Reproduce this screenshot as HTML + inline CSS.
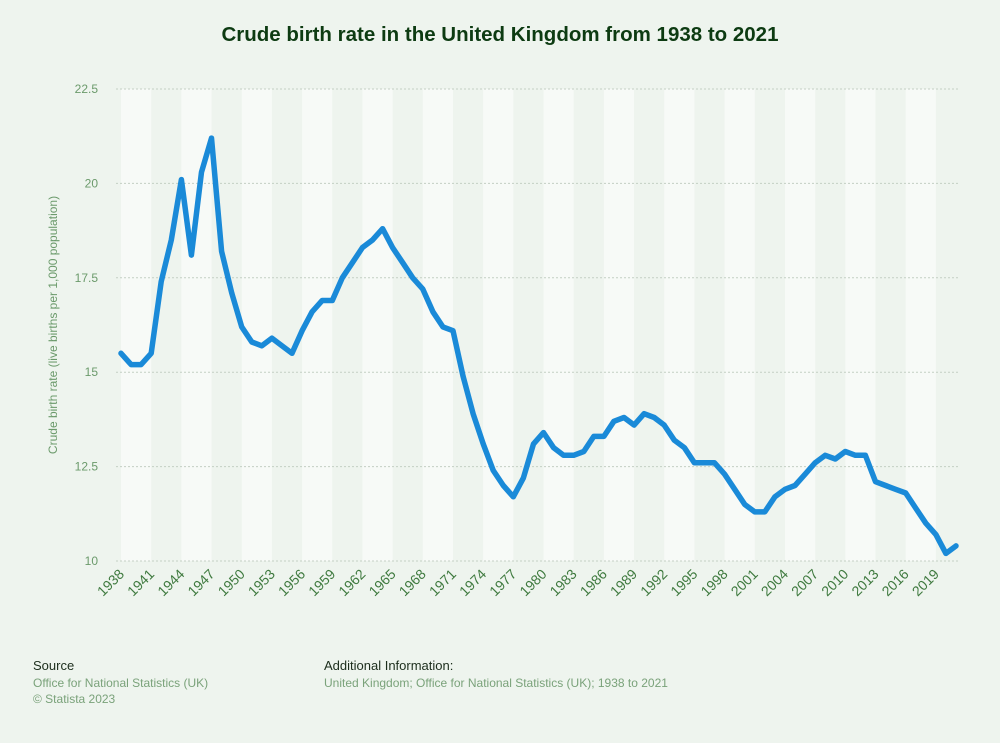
<!DOCTYPE html>
<html><head><meta charset="utf-8">
<style>
html,body{margin:0;padding:0;background:#eef4ee;}
body{width:1000px;height:743px;position:relative;overflow:hidden;font-family:"Liberation Sans",Arial,sans-serif;}
</style></head>
<body>
<svg id="c" width="1000" height="743" xmlns="http://www.w3.org/2000/svg" style="position:absolute;left:0;top:0">
<rect width="1000" height="743" fill="#eef4ee"/>
<g id="bands"></g>
<g id="grid"></g>
<g id="xl"></g>
<text x="500" y="41" text-anchor="middle" font-size="20.5" font-weight="bold" fill="#0d3b12" font-family="Liberation Sans, Arial, sans-serif">Crude birth rate in the United Kingdom from 1938 to 2021</text>
<text transform="translate(57,325) rotate(-90)" text-anchor="middle" font-size="12" fill="#6b9a6b" font-family="Liberation Sans, Arial, sans-serif">Crude birth rate (live births per 1,000 population)</text>
<polyline id="ln" fill="none" stroke="#1a8ad8" stroke-width="5.5" stroke-linejoin="round" stroke-linecap="round"/>
<g font-family="Liberation Sans, Arial, sans-serif">
<text x="33" y="670" font-size="13" fill="#1c2d1c">Source</text>
<text x="33" y="687" font-size="12" fill="#7aa27a">Office for National Statistics (UK)</text>
<text x="33" y="703" font-size="12" fill="#7aa27a">© Statista 2023</text>
<text x="324" y="670" font-size="13" fill="#1c2d1c">Additional Information:</text>
<text x="324" y="687" font-size="12" fill="#7aa27a">United Kingdom; Office for National Statistics (UK); 1938 to 2021</text>
</g>
</svg>
<script>
var d=[15.5,15.2,15.2,15.5,17.4,18.5,20.1,18.1,20.3,21.2,18.2,17.1,16.2,15.8,15.7,15.9,15.7,15.5,16.1,16.6,16.9,16.9,17.5,17.9,18.3,18.5,18.8,18.3,17.9,17.5,17.2,16.6,16.2,16.1,14.9,13.9,13.1,12.4,12.0,11.7,12.2,13.1,13.4,13.0,12.8,12.8,12.9,13.3,13.3,13.7,13.8,13.6,13.9,13.8,13.6,13.2,13.0,12.6,12.6,12.6,12.3,11.9,11.5,11.3,11.3,11.7,11.9,12.0,12.3,12.6,12.8,12.7,12.9,12.8,12.8,12.1,12.0,11.9,11.8,11.4,11.0,10.7,10.2,10.4];
var NS="http://www.w3.org/2000/svg";
function X(i){return 121+10.06*i;}
function Y(v){return 561-(v-10)*37.76;}
function el(t,a,p,txt){var e=document.createElementNS(NS,t);for(var k in a)e.setAttribute(k,a[k]);if(txt!=null)e.textContent=txt;p.appendChild(e);return e;}
var b=document.getElementById('bands');
for(var i=0;i<84;i+=6){el('rect',{x:X(i),y:89,width:30.18,height:472,fill:'#f7faf7'},b);}
var g=document.getElementById('grid');
[10,12.5,15,17.5,20,22.5].forEach(function(v){
 el('line',{x1:116,x2:960,y1:Y(v),y2:Y(v),stroke:'#c4cfc4','stroke-width':1,'stroke-dasharray':'2,2'},g);
 el('text',{x:98,y:Y(v)+4,'text-anchor':'end','font-size':12,fill:'#6b9a6b','font-family':'Liberation Sans, Arial, sans-serif'},g,String(v));
});
var xl=document.getElementById('xl');
for(var i=0;i<84;i+=3){var x=X(i)+4,y=575;
 el('text',{x:x,y:y,'text-anchor':'end','font-size':14,fill:'#3f7a3f',transform:'rotate(-45 '+x+' '+y+')','font-family':'Liberation Sans, Arial, sans-serif'},xl,String(1938+i));}
document.getElementById('ln').setAttribute('points',d.map(function(v,i){return X(i).toFixed(1)+','+Y(v).toFixed(1);}).join(' '));
</script>
</body></html>
